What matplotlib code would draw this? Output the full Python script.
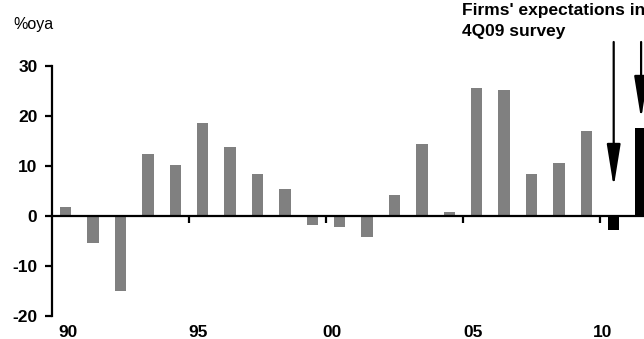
import matplotlib
matplotlib.use("Agg")
import matplotlib.pyplot as plt
from matplotlib.transforms import blended_transform_factory

years = list(range(1990, 2010))
actual = [1.8, -5.3, -14.9, 12.4, 10.2, 18.6, 13.9, 8.4, 5.4, -1.7,
          -2.1, -4.1, 4.2, 14.4, 0.8, 25.6, 25.2, 8.4, 10.6, 17.0]
exp_years = [2010, 2011]
expected = [-2.8, 17.7]
tick_years = [1995, 2000, 2005, 2010]
tick_labels = ["90", "95", "00", "05", "10"]
label_pos = [1990.58, 1995.33, 2000.22, 2005.36, 2010.11]

plt.rcParams['font.family'] = ['Liberation Sans Narrow', 'Liberation Sans', 'DejaVu Sans']

fig = plt.figure(figsize=(6.44, 3.39), dpi=100)
ax = fig.add_axes([52 / 644, 23 / 339, 592 / 644, 250 / 339])

w = 0.42
ax.bar([y + 0.5 for y in years], actual, width=w, color="#808080")
ax.bar([y + 0.5 for y in exp_years], expected, width=w, color="black")

ax.set_xlim(1990, 1990 + 592 / 27.4)
ax.set_ylim(-20, 30)
ax.set_yticks([-20, -10, 0, 10, 20, 30])
ax.set_yticklabels(["-20", "-10", "0", "10", "20", "30"], fontweight="bold", fontsize=12.5)

for s in ["top", "right"]:
    ax.spines[s].set_visible(False)
ax.spines["left"].set_linewidth(1.6)
ax.spines["bottom"].set_position(("data", 0))
ax.spines["bottom"].set_linewidth(1.6)
ax.tick_params(axis="y", direction="out", length=5, width=1.6, pad=5.5)
ax.set_xticks(tick_years)
ax.set_xticklabels([])
ax.tick_params(axis="x", direction="out", length=5, width=1.6)

tr = blended_transform_factory(ax.transData, ax.transAxes)
for xp, lab in zip(label_pos, tick_labels):
    ax.text(xp, -0.036, lab, transform=tr, ha="center", va="top",
            fontsize=12.5, fontweight="bold")

fig.text(13 / 644, 1 - 29 / 339, "%oya", fontsize=11.5, va="baseline")
fig.text(462 / 644, 1 - 15 / 339, "Firms' expectations in", fontsize=12.5,
         fontweight="bold", va="baseline")
fig.text(462 / 644, 1 - 36 / 339, "4Q09 survey", fontsize=12.5,
         fontweight="bold", va="baseline")

arrow = dict(arrowstyle="-|>,head_length=2.6,head_width=0.42", lw=1.6,
             color="black", mutation_scale=10, shrinkA=0, shrinkB=0)
ax.annotate("", xy=(2010.5, 5.8), xytext=(2010.5, 34.8), arrowprops=arrow,
            annotation_clip=False)
ax.annotate("", xy=(2011.5, 19.4), xytext=(2011.5, 34.8), arrowprops=arrow,
            annotation_clip=False)

fig.savefig("out.png", dpi=100)
